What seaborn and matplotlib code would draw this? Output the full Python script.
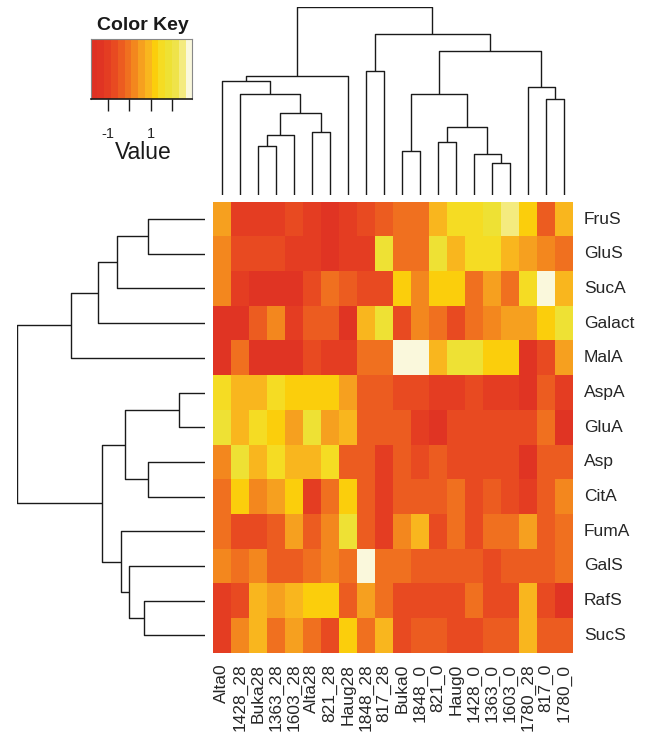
import numpy as np
import pandas as pd
import seaborn as sns
import matplotlib
matplotlib.use("Agg")
import matplotlib.pyplot as plt
from matplotlib.colors import ListedColormap

sns.set_style("white")
plt.rcParams['font.family'] = ['Liberation Sans', 'DejaVu Sans']

# ---------------- data ----------------
col_labels = ["Alta0", "1428_28", "Buka28", "1363_28", "1603_28", "Alta28", "821_28",
              "Haug28", "1848_28", "817_28", "Buka0", "1848_0", "821_0", "Haug0",
              "1428_0", "1363_0", "1603_0", "1780_28", "817_0", "1780_0"]
row_labels = ["FruS", "GluS", "SucA", "Galact", "MalA", "AspA", "GluA", "Asp",
              "CitA", "FumA", "GalS", "RafS", "SucS"]

FruS   = [0.57,-1.02,-1.02,-1.02,-0.70,-1.02,-1.34,-1.02,-0.70,-0.39,-0.07,-0.07,0.88,1.52,1.52,1.83,2.47,1.20,-0.39,0.88]
GluS   = [0.25,-0.70,-0.70,-0.70,-1.02,-1.02,-1.34,-1.02,-1.02,1.83,-0.07,-0.07,1.83,0.88,1.52,1.52,0.88,0.57,0.25,-0.07]
SucA   = [0.25,-1.02,-1.34,-1.34,-1.34,-0.70,-0.07,-0.39,-0.70,-0.70,1.20,0.25,1.20,1.20,-0.07,0.57,-0.07,1.52,2.78,0.88]
Galact = [-1.34,-1.34,-0.39,0.25,-1.02,-0.39,-0.39,-1.34,0.88,1.83,-0.70,0.25,-0.07,-0.70,-0.07,0.25,0.57,0.57,1.20,1.83]
MalA   = [-1.34,-0.07,-1.34,-1.34,-1.34,-0.70,-1.02,-1.02,-0.07,-0.07,2.78,2.78,0.88,1.83,1.83,1.20,1.20,-1.34,-0.70,0.57]
AspA   = [1.52,0.88,0.88,1.52,1.20,1.20,1.20,0.57,-0.39,-0.39,-0.70,-0.70,-1.02,-1.02,-0.70,-1.02,-1.02,-1.34,-0.39,-1.02]
GluA   = [1.83,0.88,1.52,1.20,0.57,1.83,0.57,0.88,-0.39,-0.39,-0.39,-1.02,-1.34,-0.70,-0.70,-0.70,-0.70,-0.70,-0.07,-1.34]
Asp    = [0.25,1.83,0.88,1.52,0.88,0.88,1.52,-0.39,-0.39,-1.02,-0.39,-0.70,-0.39,-0.70,-0.70,-0.70,-0.70,-1.34,-0.39,-0.39]
CitA   = [-0.07,1.20,0.25,0.57,1.20,-1.02,-0.07,1.20,-0.39,-1.02,-0.39,-0.39,-0.39,-0.07,-0.70,-0.39,-0.70,-1.02,-0.39,0.25]
FumA   = [-0.07,-0.70,-0.70,-0.39,0.57,-0.39,0.25,1.83,-0.39,-1.02,0.25,0.88,-0.70,-0.07,-0.70,-0.07,-0.07,0.57,-0.39,-0.07]
GalS   = [0.25,-0.07,0.25,-0.39,-0.39,-0.07,0.25,-0.07,2.78,-0.07,-0.07,-0.39,-0.39,-0.39,-0.39,-0.70,-0.39,-0.39,-0.39,-0.07]
RafS   = [-1.02,-0.70,0.88,0.57,0.88,1.20,1.20,-0.39,0.57,-0.07,-0.70,-0.70,-0.70,-0.70,-0.07,-0.70,-0.70,0.88,-0.70,-1.34]
SucS   = [-1.02,0.25,0.88,-0.07,0.57,-0.07,-0.70,1.20,-0.07,0.88,-0.70,-0.39,-0.39,-0.70,-0.70,-0.39,-0.39,0.88,-0.39,-0.39]

# colour key breaks (min, max) and heat colours
key_min, key_max = -1.81, 2.94
key_colors = ['#DE3123', '#E03423', '#E43D22', '#E84A21', '#EC5C20', '#F0701F',
              '#F3871E', '#F6A01F', '#F9B61E', '#FBCE0C', '#F5DC23', '#EEE134',
              '#EFE34A', '#F4EB7F', '#FAF8DC']
key_ticks = [-1, 0, 1, 2]
key_ticklabels = ["-1", "", "1", ""]

# dendrogram merges: (child_a, child_b, height); leaves = display order, new nodes numbered n, n+1, ...
col_merges = [(2, 3, 1.47), (20, 4, 1.80), (5, 6, 1.88), (21, 22, 2.47), (1, 23, 3.03),
              (0, 24, 3.42), (25, 7, 3.58), (8, 9, 3.72), (10, 11, 1.33), (12, 13, 1.58),
              (15, 16, 0.95), (14, 30, 1.24), (29, 31, 2.05), (28, 32, 3.03), (18, 19, 2.87),
              (17, 34, 3.24), (33, 35, 4.31), (27, 36, 4.82), (26, 37, 5.63)]
row_merges = [(0, 1, 1.71), (13, 2, 2.64), (14, 3, 3.20), (15, 4, 4.00), (5, 6, 0.77),
              (7, 8, 1.71), (17, 18, 2.38), (11, 12, 1.83), (10, 20, 2.26), (9, 21, 2.52),
              (19, 22, 3.07), (16, 23, 5.62)]

# ---------------- figure ----------------
W, H = 649, 732
fig = plt.figure(figsize=(W / 100, H / 100), dpi=100)

def px_axes(x0, y0, x1, y1):
    return fig.add_axes([x0 / W, 1 - y1 / H, (x1 - x0) / W, (y1 - y0) / H])

df = pd.DataFrame([FruS, GluS, SucA, Galact, MalA, AspA, GluA, Asp, CitA, FumA, GalS, RafS, SucS],
                  index=row_labels, columns=col_labels)
cmap = ListedColormap(key_colors)

ax_hm = px_axes(212.7, 201.7, 572.7, 652.7)
sns.heatmap(df, ax=ax_hm, cmap=cmap, vmin=key_min, vmax=key_max, cbar=False,
            linewidths=0, rasterized=True)
ax_hm.yaxis.tick_right()
ax_hm.set_yticks(np.arange(len(row_labels)) + 0.5)
ax_hm.set_yticklabels(row_labels, rotation=0, fontsize=12.5, va='center')
ax_hm.set_xticks(np.arange(len(col_labels)) + 0.5)
ax_hm.set_xticklabels(col_labels, rotation=90, fontsize=12.5)
ax_hm.tick_params(axis='both', length=0)
ax_hm.tick_params(axis='y', pad=8)
ax_hm.tick_params(axis='x', pad=8)
ax_hm.set_xlabel("")
ax_hm.set_ylabel("")
for s in ax_hm.spines.values():
    s.set_visible(False)

def draw_dendro(ax, merges, n, orient):
    pos = {i: i + 0.5 for i in range(n)}
    hgt = {i: 0.0 for i in range(n)}
    for k, (a, b, h) in enumerate(merges):
        xa, xb = pos[a], pos[b]
        xs = [xa, xa, xb, xb]
        ys = [hgt[a], h, h, hgt[b]]
        if orient == 'top':
            ax.plot(xs, ys, color='#1a1a1a', lw=1.0, solid_capstyle='butt')
        else:
            ax.plot(ys, xs, color='#1a1a1a', lw=1.0, solid_capstyle='butt')
        pos[n + k] = (xa + xb) / 2
        hgt[n + k] = h

ax_cd = px_axes(212.7, 7.3, 572.7, 195.0)
draw_dendro(ax_cd, col_merges, len(col_labels), 'top')
ax_cd.set_xlim(0, len(col_labels))
ax_cd.set_ylim(0, 5.63)
ax_cd.axis('off')

ax_rd = px_axes(17.3, 201.7, 204.7, 652.7)
draw_dendro(ax_rd, row_merges, len(row_labels), 'left')
ax_rd.set_xlim(5.62, 0)
ax_rd.set_ylim(len(row_labels), 0)
ax_rd.axis('off')

# colour key
ax_k = px_axes(90.7, 39.3, 192.3, 99.3)
breaks = np.linspace(key_min, key_max, len(key_colors) + 1)
mids = (breaks[:-1] + breaks[1:]) / 2
ax_k.pcolormesh(breaks, [0, 1], mids[None, :], cmap=cmap, vmin=key_min, vmax=key_max,
                edgecolors='face', linewidth=0)
ax_k.set_xlim(key_min, key_max)
ax_k.set_ylim(0, 1)
ax_k.set_yticks([])
ax_k.set_xticks(key_ticks)
ax_k.set_xticklabels(key_ticklabels, fontsize=10.5)
ax_k.tick_params(axis='x', bottom=True, direction='out', length=8.4, width=1.0, pad=11.5,
                 color='#1a1a1a')
for nm, s in ax_k.spines.items():
    s.set_color('#888888')
    s.set_linewidth(0.8)
ax_k.spines['bottom'].set_color('#1a1a1a')
ax_k.spines['bottom'].set_linewidth(1.2)

fig.text(143 / W, 1 - 30 / H, "Color Key", fontsize=14, fontweight='bold',
         ha='center', va='baseline', color='#1a1a1a')
fig.text(143 / W, 1 - 159.3 / H, "Value", fontsize=16.5, ha='center', va='baseline',
         color='#1a1a1a')

fig.savefig("out.png", dpi=100)
